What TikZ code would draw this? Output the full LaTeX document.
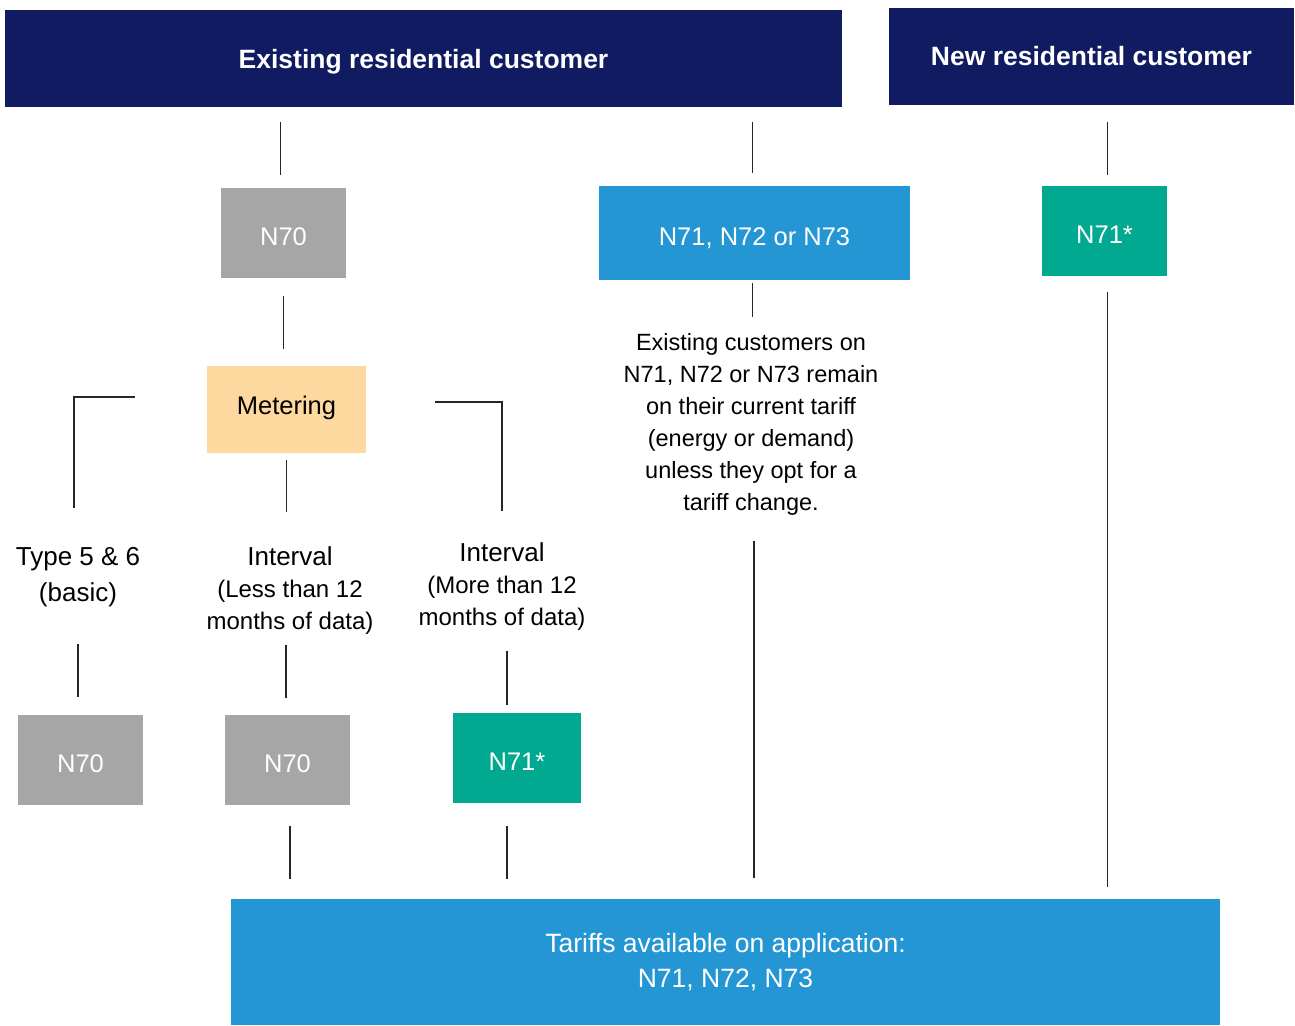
\documentclass[tikz,border=0pt]{standalone}
\usepackage{fontspec}
\setmainfont{Liberation Sans}
\definecolor{navy}{HTML}{101B62}
\definecolor{tgrey}{HTML}{A6A6A6}
\definecolor{tblue}{HTML}{2596D4}
\definecolor{tgreen}{HTML}{00A98F}
\definecolor{torange}{HTML}{FDD89F}
\begin{document}
\begin{tikzpicture}[x=1pt,y=-1pt,
  banner/.style={fill=navy,text=white,font=\fontsize{26.5}{30}\selectfont\bfseries,minimum height=97pt,inner sep=0pt,text height=19pt,text depth=0pt},
  rate/.style={fill=#1,text=white,font=\fontsize{25.5}{32}\selectfont,minimum width=125pt,minimum height=90pt,inner sep=0pt,text height=24pt,text depth=0pt},
  note/.style={align=center,inner sep=0pt,font=\fontsize{24}{32}\selectfont},
  wire/.style={draw=black!85,line width=1.2pt},
  gapped/.style 2 args={shorten <=#1pt,shorten >=#2pt}]
\useasboundingbox (0,0) rectangle (1295,1025);
\node[banner,minimum width=837pt] (old) at (423.5,58.5) {Existing residential customer};
\node[banner,minimum width=405pt] (new) at (1091.5,56.5) {New residential customer};
\node[rate=tgrey] (n70a) at (283.5,233) {N70};
\node[rate=tblue,minimum width=311pt,minimum height=94pt] (nall) at (754.5,233) {N71, N72 or N73};
\node[rate=tgreen] (n71a) at (1104.5,231) {N71*};
\node[rate=torange,text=black,minimum width=159pt,minimum height=87pt,text height=18pt,text depth=8pt] (meter) at (286.5,409.5) {Metering};
\node[note,font=\fontsize{23.5}{32}\selectfont] (keep) at (751,424.5) {Existing customers on\\N71, N72 or N73 remain\\on their current tariff\\(energy or demand)\\unless they opt for a\\tariff change.};
\node[note,font=\fontsize{26}{36}\selectfont] (t56) at (78,577.5) {Type 5 \& 6\\(basic)};
\node[note] (ivless) at (290,591) {{\fontsize{26}{34}\selectfont Interval}\\(Less than 12\\months of data)};
\node[note] (ivmore) at (502,587) {{\fontsize{26}{34}\selectfont Interval}\\(More than 12\\months of data)};
\node[rate=tgrey] (n70b) at (80.5,760) {N70};
\node[rate=tgrey] (n70c) at (287.5,760) {N70};
\node[rate=tgreen,minimum width=128pt] (n71b) at (517,758) {N71*};
\node[rate=tblue,align=center,font=\fontsize{26.5}{35}\selectfont,text height=,text depth=,minimum width=989pt,minimum height=126pt] (apply) at (725.5,962) {Tariffs available on application:\\N71, N72, N73};

\draw[wire,gapped={15}{13}] ([xshift=-3pt]n70a.north |- old.south) -- ([xshift=-3pt]n70a.north);
\draw[wire,gapped={15}{13}] ([xshift=-2pt]nall.north |- old.south) -- ([xshift=-2pt]nall.north);
\draw[wire,gapped={17}{11}] ([xshift=3pt]n71a.north |- new.south) -- ([xshift=3pt]n71a.north);
\draw[wire,gapped={18}{17}] (n70a.south) -- (n70a.south |- meter.north);
\draw[wire,gapped={3}{16}] ([xshift=-2pt]nall.south) -- ([xshift=-2pt]nall.south |- keep.north);
\draw[wire,gapped={25.5}{21}] ([xshift=3pt]keep.south) -- ([xshift=3pt]keep.south |- apply.north);
\draw[wire,gapped={16}{12}] ([xshift=3pt]n71a.south) -- ([xshift=3pt]n71a.south |- apply.north);
\draw[wire,gapped={72}{40}] ([yshift=12.5pt]meter.west) -| ([xshift=-4pt]t56.north);
\draw[wire,gapped={7}{35}] (meter.south) -- (meter.south |- ivless.north);
\draw[wire,gapped={69}{32}] ([yshift=7.5pt]meter.east) -| (ivmore.north);
\draw[wire,gapped={37}{18}] (t56.south) -- (t56.south |- n70b.north);
\draw[wire,gapped={10}{17}] ([xshift=-4pt]ivless.south) -- ([xshift=-4pt]ivless.south |- n70c.north);
\draw[wire,gapped={20}{8}] ([xshift=5pt]ivmore.south) -- ([xshift=5pt]ivmore.south |- n71b.north);
\draw[wire,gapped={21}{20}] ([xshift=2.5pt]n70c.south) -- ([xshift=2.5pt]n70c.south |- apply.north);
\draw[wire,gapped={23}{20}] ([xshift=-10pt]n71b.south) -- ([xshift=-10pt]n71b.south |- apply.north);
\end{tikzpicture}
\end{document}
